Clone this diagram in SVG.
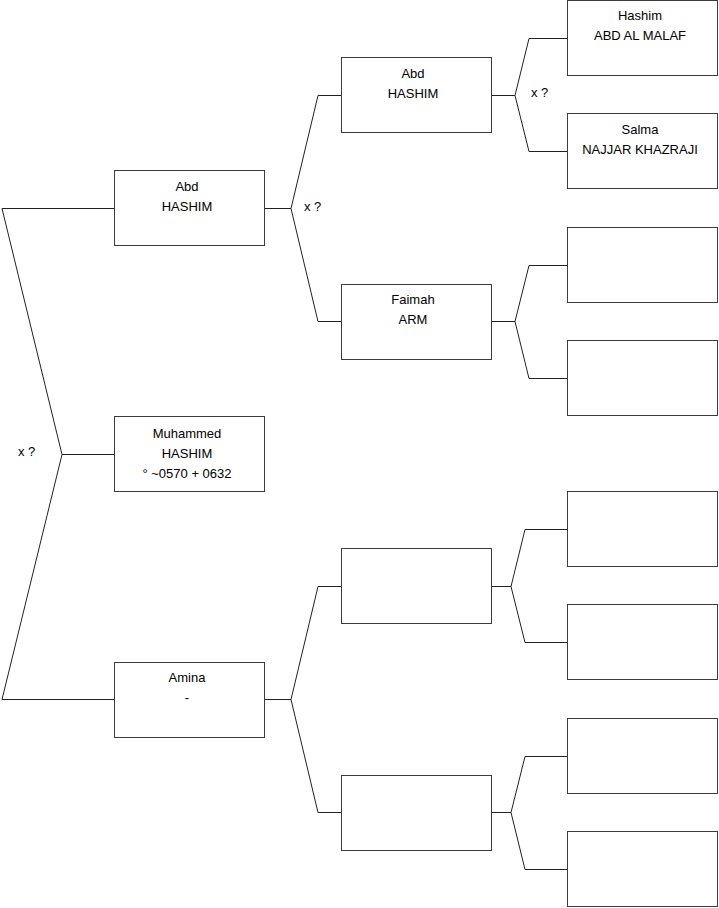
<svg xmlns="http://www.w3.org/2000/svg" width="719" height="908" viewBox="0 0 719 908">
<style>
.box{fill:#fff;stroke:#3c3c3c;stroke-width:1}
.c{fill:none;stroke:#222;stroke-width:1}
text{font-family:"Liberation Sans",Arial,sans-serif;font-size:13px;fill:#000}
.m{text-anchor:middle}
</style>
<rect width="719" height="908" fill="#fff"/>
<g id="connectors">
<polyline class="c" points="114,208.5 2,208.5 62,454.5 2,699.5 114,699.5"/>
<line class="c" x1="62" y1="454.5" x2="114" y2="454.5"/>
<polyline class="c" points="341,95.5 318,95.5 291,208.5 318,321.5 341,321.5"/>
<line class="c" x1="265" y1="208.5" x2="291" y2="208.5"/>
<polyline class="c" points="341,586.5 318,586.5 291,699.5 318,812.5 341,812.5"/>
<line class="c" x1="265" y1="699.5" x2="291" y2="699.5"/>
<polyline class="c" points="567,38.5 529,38.5 515,95.5 529,151.5 567,151.5"/>
<line class="c" x1="492" y1="95.5" x2="515" y2="95.5"/>
<polyline class="c" points="567,265.5 529,265.5 515,321.5 529,378.5 567,378.5"/>
<line class="c" x1="492" y1="321.5" x2="515" y2="321.5"/>
<polyline class="c" points="567,529.5 525,529.5 511,586.5 525,642.5 567,642.5"/>
<line class="c" x1="492" y1="586.5" x2="511" y2="586.5"/>
<polyline class="c" points="567,756.5 525,756.5 511,812.5 525,869.5 567,869.5"/>
<line class="c" x1="492" y1="812.5" x2="511" y2="812.5"/>
<text x="18" y="456">x ?</text>
<text x="304" y="211">x ?</text>
<text x="531" y="97">x ?</text>
</g>
<g id="n_muhammed"><rect class="box" x="114.5" y="416.5" width="150" height="75"/>
<text class="m" x="187" y="438">Muhammed</text><text class="m" x="187" y="458">HASHIM</text><text class="m" x="187" y="478">° ~0570 + 0632</text></g>
<g id="n_abd1"><rect class="box" x="114.5" y="170.5" width="150" height="75"/>
<text class="m" x="187" y="191">Abd</text><text class="m" x="187" y="211">HASHIM</text></g>
<g id="n_amina"><rect class="box" x="114.5" y="662.5" width="150" height="75"/>
<text class="m" x="187" y="682">Amina</text><text class="m" x="187" y="702">-</text></g>
<g id="n_abd2"><rect class="box" x="341.5" y="57.5" width="150" height="75"/>
<text class="m" x="413" y="78">Abd</text><text class="m" x="413" y="98">HASHIM</text></g>
<g id="n_faimah"><rect class="box" x="341.5" y="284.5" width="150" height="75"/>
<text class="m" x="413" y="304">Faimah</text><text class="m" x="413" y="324">ARM</text></g>
<g id="n_e1"><rect class="box" x="341.5" y="548.5" width="150" height="75"/></g>
<g id="n_e2"><rect class="box" x="341.5" y="775.5" width="150" height="75"/></g>
<g id="n_hashim"><rect class="box" x="567.5" y="0.5" width="150" height="75"/>
<text class="m" x="640" y="20">Hashim</text><text class="m" x="640" y="40">ABD AL MALAF</text></g>
<g id="n_salma"><rect class="box" x="567.5" y="113.5" width="150" height="75"/>
<text class="m" x="640" y="134">Salma</text><text class="m" x="640" y="154">NAJJAR KHAZRAJI</text></g>
<g id="n_e3"><rect class="box" x="567.5" y="227.5" width="150" height="75"/></g>
<g id="n_e4"><rect class="box" x="567.5" y="340.5" width="150" height="75"/></g>
<g id="n_e5"><rect class="box" x="567.5" y="491.5" width="150" height="75"/></g>
<g id="n_e6"><rect class="box" x="567.5" y="604.5" width="150" height="75"/></g>
<g id="n_e7"><rect class="box" x="567.5" y="718.5" width="150" height="75"/></g>
<g id="n_e8"><rect class="box" x="567.5" y="831.5" width="150" height="75"/></g>
</svg>
